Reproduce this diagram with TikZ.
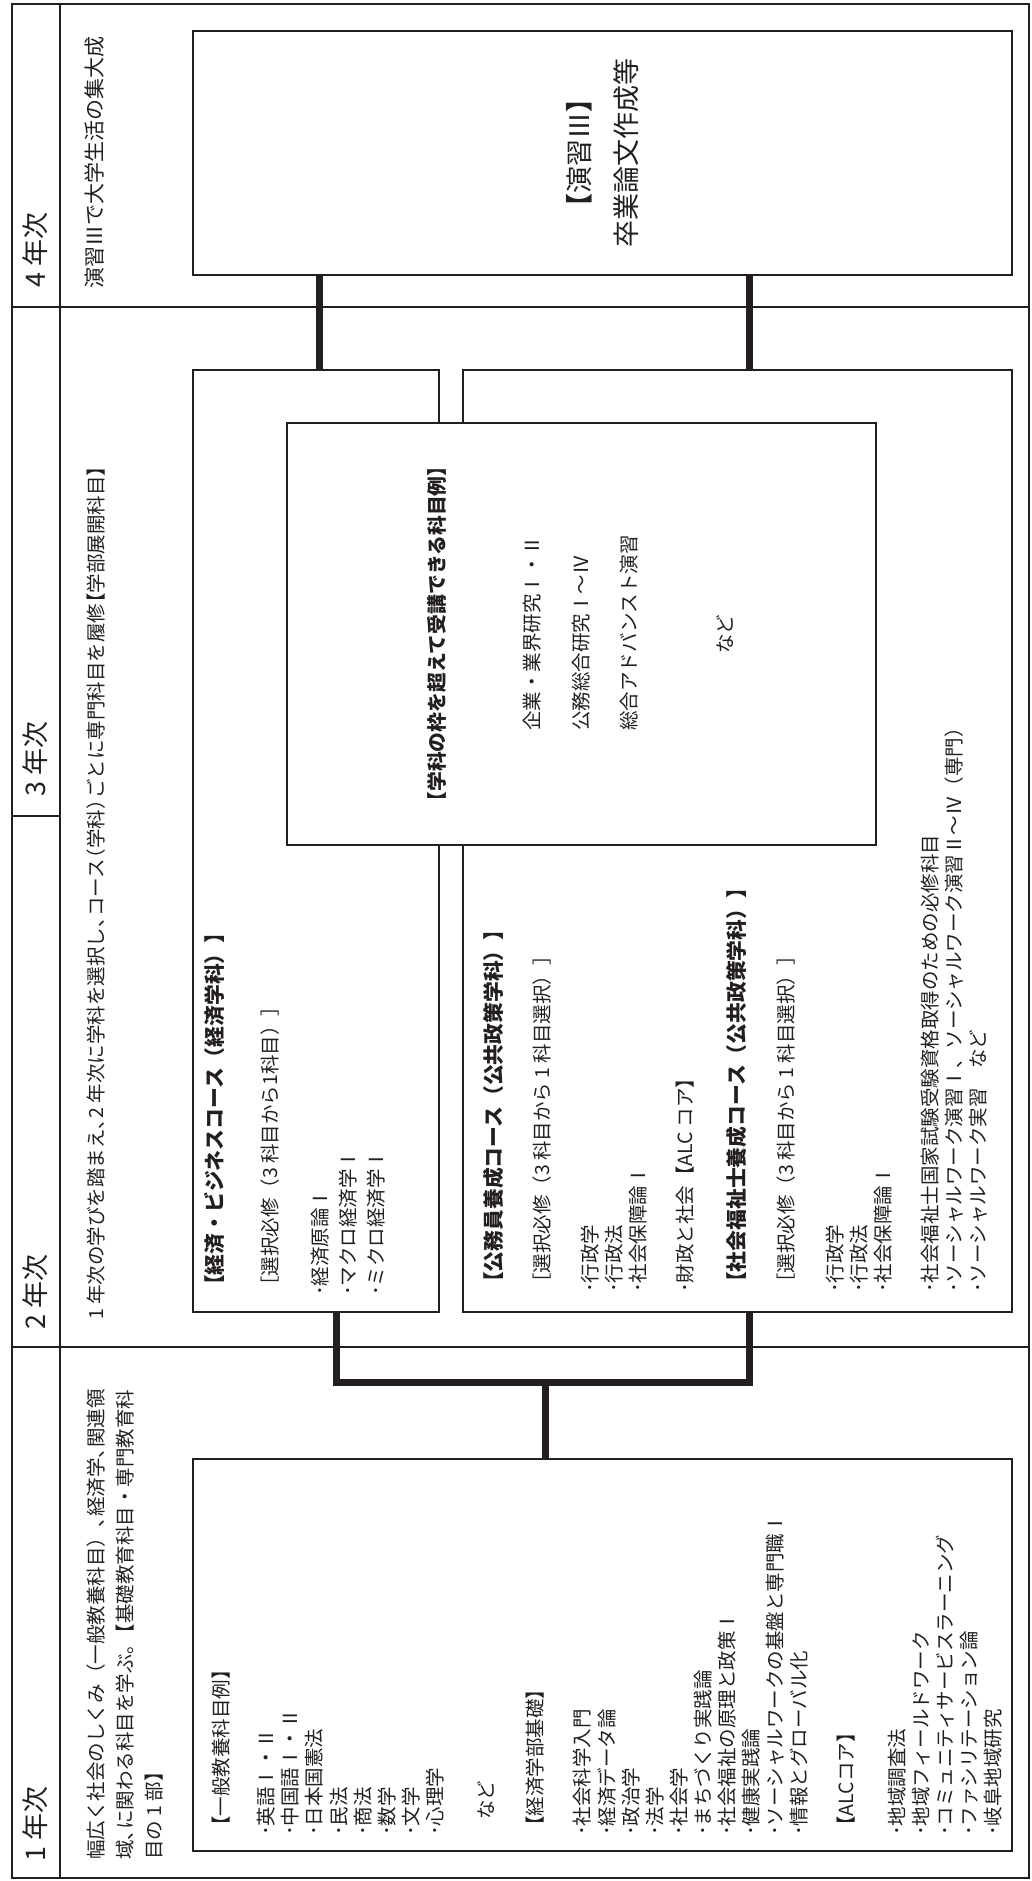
\documentclass[tikz,border=0pt]{standalone}
\usepackage{fontspec}
\setmainfont{Noto Sans CJK JP}
\definecolor{inkc}{HTML}{231F20}
% half-width punctuation helpers
\newcommand\kc{、\kern-.45em}
\newcommand\kp{。\kern-.45em}
\newcommand\kop{\kern-.45em（}
\newcommand\kcp{）\kern-.45em}
\newcommand\kob{\kern-.45em【}
\newcommand\hd[1]{{\fontsize{20.8pt}{24pt}\selectfont\bfseries #1}}
\begin{document}
\begin{tikzpicture}[x=1pt,y=-1pt,
  gridline/.style={draw=inkc, line width=1.8pt},
  box/.style={draw=inkc, line width=1.8pt, fill=white, inner sep=0pt, rectangle},
  conn/.style={draw=inkc, line width=7pt},
  txt/.style={rotate=90, inner sep=0pt, text=inkc, align=left, anchor=north west},
  yr/.style={rotate=90, inner sep=0pt, text=inkc, anchor=base west, font=\fontsize{27pt}{30pt}\selectfont},
  fs/.style={font=\fontsize{19.5pt}{#1}\selectfont},
]
\useasboundingbox (0,0) rectangle (1031,1881);
\fill[white] (0,0) rectangle (1031,1881);

% table grid
\draw[gridline] (12,4) rectangle (1029,1878);
\draw[gridline] (60,4) -- (60,1878);
\draw[gridline] (12,307) -- (1029,307);
\draw[gridline] (12,1347) -- (1029,1347);
\draw[gridline] (12,816) -- (60,816);

% year labels
\node[yr] (h1) at (45,1862) {1 年次};
\node[yr] (h2) at (45,1330) {2 年次};
\node[yr] (h3) at (45,797) {3 年次};
\node[yr] (h4) at (45,288) {4 年次};

% descriptions
\node[txt, fs=29pt] (d1) at (87,1860) {幅広く社会のしくみ（一般教養科目）\kc 経済学\kc 関連領\\域\kc に関わる科目を学ぶ\kp【基礎教育科目・専門教育科\\目の 1 部】};
\node[txt, fs=24pt] (d23) at (87,1320) {1 年次の学びを踏まえ\kc 2 年次に学科を選択し\kc コース\kop 学科\kcp ごとに専門科目を履修\kob 学部展開科目】};
\node[txt, font=\fontsize{21pt}{24pt}\selectfont] (d4) at (85,289) {演習Ⅲで大学生活の集大成};

% boxes
\node[box, minimum width=819pt, minimum height=244pt] (y4box) at (602.5,153) {};
\node[box, minimum width=246pt, minimum height=942pt] (econbox) at (316,841) {};
\node[box, minimum width=549pt, minimum height=942pt] (pubbox) at (737.5,841) {};
\node[box, minimum width=589pt, minimum height=422pt] (crossbox) at (581.5,634) {};
\node[box, minimum width=819pt, minimum height=392pt] (y1box) at (602.5,1655) {};

% connectors
\coordinate (c1) at ([xshift=3pt]econbox.north);
\coordinate (c2) at ([xshift=11.5pt]pubbox.north);
\draw[conn] (c1) -- (c1 |- y4box.south);
\draw[conn] (c2) -- (c2 |- y4box.south);
\coordinate (j) at (545,1382);
\coordinate (c3) at ([xshift=20pt]econbox.south);
\coordinate (c4) at ([xshift=11.5pt]pubbox.south);
\coordinate (c5) at ([xshift=-57.5pt]y1box.north);
\draw[conn, line join=miter] (c3) -- (c3 |- j) -- (c4 |- j) -- (c4);
\draw[conn] (c5 |- j) -- (c5);

% 4th year box text
\node[rotate=90, inner sep=0pt, text=inkc, align=center, anchor=center, font=\fontsize{27pt}{47pt}\selectfont] (t4) at (y4box.center) {{\bfseries【}演習Ⅲ{\bfseries】}\\卒業論文作成等};

% cross box text
\node[rotate=90, inner sep=0pt, text=inkc, anchor=center, font=\fontsize{19.8pt}{24pt}\selectfont\bfseries] (tc1) at (437,634) {【学科の枠を超えて受講できる科目例】};
\node[txt, fs=48.5pt] (tc2) at (523,731) {企業・業界研究Ⅰ・Ⅱ\\公務総合研究Ⅰ～Ⅳ\\総合アドバンスト演習};
\node[rotate=90, inner sep=0pt, text=inkc, anchor=center, font=\fontsize{19.5pt}{24pt}\selectfont] (tc3) at (725,634) {など};

% economics box text
\node[txt, fs=28pt] (te) at (204,1296) {\hd{【経済・ビジネスコース（経済学科）】}\\[27pt]［選択必修（3 科目から1科目）］\\[22pt]･経済原論Ⅰ\\･マクロ経済学Ⅰ\\･ミクロ経済学Ⅰ};

% public policy box text
\node[txt, fs=24pt] (tp) at (483,1293) {\hd{【公務員養成コース（公共政策学科）】}\\[24pt]［選択必修（3 科目から 1 科目選択）］\\[24pt]･行政学\\･行政法\\･社会保障論Ⅰ\\[23pt]･財政と社会【ALC コア】\\[28pt]\hd{【社会福祉士養成コース（公共政策学科）】}\\[25pt]［選択必修（3 科目から 1 科目選択）］\\[25pt]･行政学\\･行政法\\･社会保障論Ⅰ\\[23pt]･社会福祉士国家試験受験資格取得のための必修科目\\･ソーシャルワーク演習Ⅰ、ソーシャルワーク演習Ⅱ～Ⅳ（専門）\\･ソーシャルワーク実習　など};

% first year box text
\node[txt, fs=24.1pt] (t1) at (212,1836) {【一般教養科目例】\\[20.9pt]･英語Ⅰ・Ⅱ\\･中国語Ⅰ・Ⅱ\\･日本国憲法\\･民法\\･商法\\･数学\\･文学\\･心理学\\[27.2pt]\hspace*{16pt}など\\[25pt]【経済学部基礎】\\[23pt]･社会科学入門\\･経済データ論\\･政治学\\･法学\\･社会学\\･まちづくり実践論\\･社会福祉の原理と政策Ⅰ\\･健康実践論\\･ソーシャルワークの基盤と専門職Ⅰ\\･情報とグローバル化\\[23pt]【ALCコア】\\[26pt]･地域調査法\\･地域フィールドワーク\\･コミュニティサービスラーニング\\･ファシリテーション論\\･岐阜地域研究};
\end{tikzpicture}
\end{document}
